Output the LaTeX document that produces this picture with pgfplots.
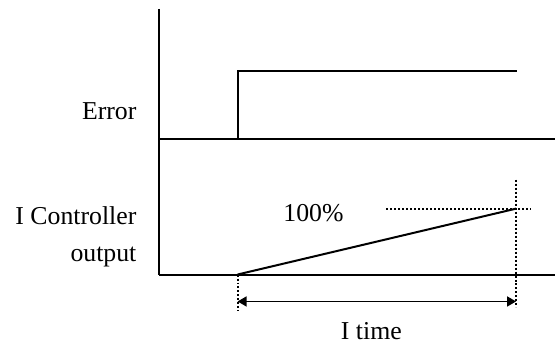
\documentclass[border=0pt]{standalone}
\usepackage{fontspec}
\setmainfont{Liberation Serif}
\usepackage{pgfplots}
\pgfplotsset{compat=1.18}
\usetikzlibrary{arrows.meta}
\tikzset{ln/.style={draw=black,line width=1pt,mark=none,line cap=butt},
  dt/.style={draw=black,line width=1pt,mark=none,dash pattern=on 1pt off 1pt}}
\begin{document}
\fontsize{12.9pt}{15pt}\selectfont
\begin{tikzpicture}
\begin{axis}[width=278pt,height=173pt,scale only axis,
  xmin=0,xmax=556,ymin=0,ymax=346,ticks=none,
  axis line style={draw=none},clip=false]
% vertical axis
\addplot[ln] coordinates {(159,337) (159,71)};
% top baseline
\addplot[ln] coordinates {(159,206.5) (556,206.5)};
% error step
\addplot[ln] coordinates {(238,206.5) (238,275) (518,275)};
% bottom baseline
\addplot[ln] coordinates {(159,71) (556,71)};
% ramp
\addplot[ln] coordinates {(238,71) (517,137)};
% dotted guides
\addplot[dt] coordinates {(238,71) (238,34)};
\addplot[dt] coordinates {(517,166) (517,38)};
\addplot[dt] coordinates {(387,137) (532,137)};
% I time arrow
\addplot[draw=black,mark=none,{Triangle[length=4.5pt,width=5pt]}-{Triangle[length=4.5pt,width=5pt]},line width=0.8pt] coordinates {(238,44) (517,44)};
\node[anchor=base east,inner sep=0] at (axis cs:137,226) {Error};
\node[anchor=base east,inner sep=0] at (axis cs:137,121) {I Controller};
\node[anchor=base east,inner sep=0] at (axis cs:137,84) {output};
\node[anchor=base,inner sep=0] at (axis cs:314,124) {100\%};
\node[anchor=base,inner sep=0] at (axis cs:372,6) {I time};
\end{axis}
\end{tikzpicture}
\end{document}
